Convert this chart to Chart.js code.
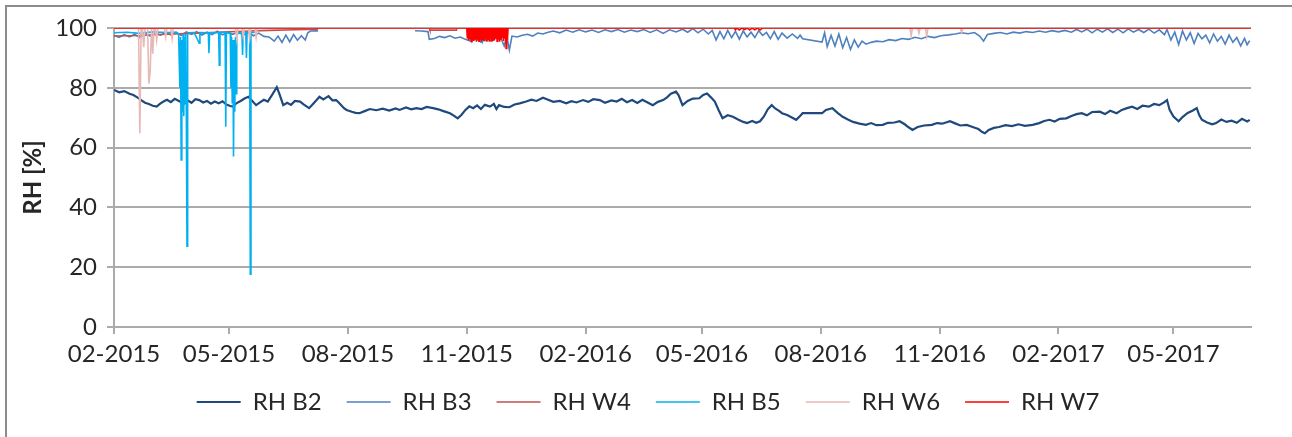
<!DOCTYPE html>
<html>
<head>
<meta charset="utf-8">
<script src="https://cdn.jsdelivr.net/npm/chart.js@4.4.1/dist/chart.umd.min.js"></script>
<style>
  body { margin: 0; background: #fff; }
  #frame { position: absolute; left: 5px; top: 5px; width: 1400px; height: 500px; border: 2px solid #8c8c8c; }
  #rhChart { position: absolute; left: 0; top: 0; }
</style>
</head>
<body>
<div id="frame"></div>
<canvas id="rhChart" width="1292" height="437"></canvas>
<script>
// x values are days since 01-02-2015
var tickDays = [0, 89, 181, 273, 365, 455, 547, 639, 731, 820];
var tickLabels = ['02-2015', '05-2015', '08-2015', '11-2015', '02-2016', '05-2016', '08-2016', '11-2016', '02-2017', '05-2017'];
var seriesNames = ['RH B2', 'RH B3', 'RH W4', 'RH B5', 'RH W6', 'RH W7'];

var b2Day = [0,4,8,12,15,18,21,24,27,30,33,36,39,41,44,47,51,54,57,60,63,66,69,72,75,78,81,84,87,90,92,95,98,101,104,107,110,113,116,119,122,126,128,131,134,137,140,144,147,151,154,157,159,162,166,169,172,175,178,180,184,187,190,194,198,203,208,213,218,221,226,230,234,238,242,247,251,255,260,263,266,269,272,275,278,281,284,287,291,294,296,298,302,306,310,314,319,323,327,332,336,340,345,350,354,358,363,367,371,376,380,385,389,393,397,401,405,409,413,417,421,425,428,431,435,437,440,444,448,453,456,459,462,465,468,471,475,479,483,487,490,494,497,500,503,506,509,512,515,517,521,525,528,531,533,548,551,556,560,564,568,572,577,582,586,590,595,599,604,608,612,615,618,622,627,633,637,641,647,651,655,660,664,669,672,674,677,681,685,690,695,700,705,711,716,720,724,728,732,737,741,745,749,753,757,763,767,771,776,780,784,788,792,796,801,805,809,813,815,817,820,824,827,831,835,838,840,842,846,850,853,857,861,865,869,873,877,879];
var b2Val = [79.3,78.5,78.9,78.0,77.6,76.8,75.9,75.0,74.6,74.0,73.7,74.8,75.6,76.0,75.2,76.3,75.4,74.6,75.8,75.0,76.2,75.9,75.1,75.6,74.7,75.4,74.8,75.5,74.4,73.9,73.7,74.9,75.6,76.4,77.0,75.6,74.2,75.1,76.0,75.4,77.4,80.2,78.0,74.2,75.0,74.3,75.6,75.4,74.4,73.2,74.6,76.0,77.0,76.1,77.2,75.8,75.9,74.6,73.2,72.6,72.0,71.6,71.5,72.2,72.9,72.5,73.0,72.4,73.1,72.6,73.4,72.8,73.2,72.9,73.6,73.2,72.8,72.2,71.5,70.7,69.8,71.0,72.6,73.8,73.2,74.1,72.9,74.3,73.7,74.6,72.9,74.2,73.6,73.5,74.4,74.8,75.4,76.0,75.6,76.7,76.0,75.3,75.6,74.8,75.5,75.1,75.9,75.3,76.2,75.9,75.0,75.8,75.4,76.3,75.2,75.9,74.9,76.0,75.1,74.2,75.3,75.9,76.8,78.0,78.7,77.5,74.2,75.6,76.4,76.5,77.6,78.1,76.8,75.4,72.5,69.8,70.8,70.3,69.4,68.6,68.2,68.9,68.3,68.8,70.4,72.8,74.2,73.0,72.2,71.5,70.9,70.0,69.3,70.6,71.5,71.5,72.6,73.2,71.6,70.3,69.4,68.6,68.0,67.6,68.2,67.5,67.6,68.3,68.4,68.8,67.8,66.8,65.9,66.9,67.4,67.6,68.2,68.0,68.8,68.1,67.4,67.6,67.0,66.2,65.2,64.8,65.9,66.6,66.9,67.5,67.2,67.8,67.3,67.6,68.2,68.9,69.3,68.7,69.6,69.8,70.6,71.2,71.5,70.8,71.9,72.0,71.2,72.3,71.5,72.6,73.2,73.7,72.9,74.0,73.7,74.6,74.2,75.2,75.9,72.6,70.4,68.8,70.2,71.6,72.4,73.2,70.8,69.3,68.4,67.8,68.2,69.4,68.6,69.0,68.3,69.6,68.7,69.3];

var b3Day = [0,4,8,12,16,20,24,28,32,36,40,44,48,52,56,60,64,68,72,76,80,84,88,92,96,100,104,108,112,116,120,124,127,130,133,136,139,142,145,148,150,152,156,158,160,233,238,243,244,248,252,256,260,264,268,272,276,280,284,288,292,296,300,302,304,306,308,312,316,320,324,328,332,336,340,345,350,355,360,365,370,375,380,385,390,395,400,405,410,415,420,425,430,435,440,444,448,452,456,460,463,466,469,472,475,478,481,484,487,490,493,496,499,502,505,508,511,514,517,521,525,529,531,533,548,550,552,555,558,561,564,567,570,573,576,579,582,586,590,595,600,605,610,615,620,625,630,635,640,646,651,656,661,666,670,673,676,681,686,691,696,701,706,711,716,721,726,731,736,741,745,749,753,757,761,765,769,773,777,781,785,789,793,797,801,805,809,813,815,818,821,824,827,830,833,836,839,842,845,848,851,854,857,860,863,866,869,872,875,877,879];
var b3Val = [97.5,96.9,97.8,97.0,97.9,96.8,98.2,97.3,98.4,97.6,98.5,97.7,98.6,97.5,98.7,97.9,98.8,97.6,98.6,97.8,98.9,97.7,98.6,97.9,98.7,97.6,98.5,97.4,98.3,97.2,97.0,95.6,97.3,95.2,97.6,95.4,97.8,95.9,97.4,96.0,98.4,99.0,99.1,99.0,null,99.1,99.0,98.8,96.2,96.5,97.2,96.8,97.4,96.6,97.0,96.2,95.6,96.4,95.3,96.6,95.8,96.9,96.1,94.0,97.4,92.6,97.3,97.0,97.6,97.9,97.3,98.3,98.0,98.6,99.0,98.4,99.3,98.6,99.4,98.7,99.3,98.5,99.4,98.8,99.5,98.6,99.3,98.8,99.5,98.5,99.4,98.2,99.4,98.7,99.6,98.6,99.8,98.4,99.6,98.0,99.2,96.0,98.8,96.4,99.2,96.8,98.9,96.3,99.0,97.0,98.6,96.8,99.1,97.5,98.5,96.4,98.8,96.2,98.3,96.6,98.0,96.5,97.6,96.4,95.3,98.4,93.8,97.5,94.0,98.0,93.4,96.8,92.8,96.0,93.6,95.6,94.6,95.2,95.6,95.4,96.1,95.8,96.5,96.2,96.9,96.4,97.2,96.8,97.4,97.7,98.0,98.4,98.1,98.5,97.3,95.6,97.8,98.2,98.5,98.0,98.6,98.3,98.8,98.5,99.0,98.6,99.1,98.7,99.2,98.6,99.5,98.7,99.6,98.4,99.6,98.6,99.7,98.5,99.6,98.4,99.7,98.6,99.5,98.5,99.6,98.3,99.4,97.8,99.5,96.0,98.6,94.5,99.0,96.0,98.4,94.8,98.2,96.4,97.6,95.0,98.0,95.6,97.2,94.6,97.6,95.2,96.8,94.0,96.5,94.4,95.8];

var w4Day = [0,20,40,60,80,100,120,140,158,160,244,244.5,265,265.5,880];
var w4Val = [97.3,97.5,97.9,98.2,98.6,98.9,99.2,99.4,99.6,null,100,99.3,99.3,100,100];

var b5Day = [0,10,20,30,40,48,50,51,51.5,52,52.5,53,53.5,54,54.5,55,55.5,56,56.5,57,58,62,66,66.5,73,73.5,74,81,81.5,82,86,86.5,87,90,90.5,91,91.5,92,92.5,93,93.5,94,94.5,95,99,99.5,100,102,102.5,103,105,105.5,106,109,110,275,277,279,281,283,285,287,289,291,293,295,297,299];
var b5Val = [98.4,98.6,98.2,98.7,98.5,98.6,98.0,80.0,97.0,55.9,96.0,72.0,98.0,70.5,97.0,75.0,98.0,70.0,27.0,98.0,98.4,98.5,94.9,98.5,98.4,91.6,98.4,98.5,87.6,98.5,98.6,67.0,98.4,98.2,80.0,97.0,75.0,96.0,57.0,96.0,72.0,97.0,78.0,98.0,98.5,91.0,98.4,98.5,90.0,98.6,98.5,17.7,98.4,98.6,null,98.0,95.5,97.5,96.0,97.0,95.2,97.5,96.0,98.0,95.8,97.2,96.5,98.0];

var w6Day = [0,19,20,21,22,23,24,26,27,28,29,30,31,32,33,34,39,40,41,44,45,46,94,95,96,99,100,101,104,105,106,109,110,111,160,616,617,618,622,623,624,628,629,630,655,656,657,880];
var w6Val = [100,100,64.8,100,100,93.6,100,100,81.4,85.4,100,91.4,100,100,96.0,100,100,97.0,100,100,96.5,100,100,96.3,100,100,97.0,100,100,96.5,100,100,96.8,100,100,100,97.5,100,100,98.2,100,100,97.2,100,100,98.5,100,100];

var w7Day = [0,273,273.5,274,274.5,275,275.5,276,276.5,277,277.5,278,278.5,279,279.5,280,280.5,281,281.5,282,282.5,283,283.5,284,284.5,285,285.5,286,286.5,287,287.5,288,288.5,289,289.5,290,290.5,291,291.5,292,292.5,293,293.5,294,294.5,295,295.5,296,296.5,297,297.5,298,298.5,299,299.5,300,300.5,301,301.5,302,302.5,303,303.5,304,304.5,305,306,480,481,482,484,486,488,490,492,494,496,498,500,502,503,880];
var w7Val = [100,100,96.5,100,95.8,100,96.2,100,95.5,100,96.0,100,95.7,100,96.4,100,95.4,100,96.1,100,95.6,100,96.3,100,95.5,100,96.0,100,95.8,100,96.6,100,95.4,100,96.2,100,95.7,100,96.4,100,95.5,100,96.0,100,95.9,100,96.5,100,95.6,100,96.2,100,95.4,100,96.0,100,96.8,100,95.7,100,96.4,100,93.2,100,96.1,100,100,100,99.4,100,99.3,100,99.5,100,99.3,100,99.4,100,99.3,100,100,100];

function toPoints(days, vals) {
	return days.map(function (d, i) { return { x: d, y: vals[i] }; });
}

var fontFam = 'Lato, "Open Sans", sans-serif';
var textCol = '#262626';
var gridCol = '#ababab';

var chart = new Chart(document.getElementById('rhChart'), {
	type: 'line',
	data: {
		datasets: [
			{ label: seriesNames[0], data: toPoints(b2Day, b2Val), borderColor: '#1f497d', borderWidth: 2.2, order: 6 },
			{ label: seriesNames[1], data: toPoints(b3Day, b3Val), borderColor: '#4f81bd', borderWidth: 1.6, order: 5 },
			{ label: seriesNames[2], data: toPoints(w4Day, w4Val), borderColor: '#c0504d', borderWidth: 1.6, order: 4 },
			{ label: seriesNames[3], data: toPoints(b5Day, b5Val), borderColor: '#00b0f0', borderWidth: 1.6, order: 3 },
			{ label: seriesNames[4], data: toPoints(w6Day, w6Val), borderColor: '#e6b9b8', borderWidth: 1.6, order: 2 },
			{ label: seriesNames[5], data: toPoints(w7Day, w7Val), borderColor: '#ff0000', borderWidth: 1.6, order: 1 }
		]
	},
	options: {
		responsive: false,
		animation: false,
		devicePixelRatio: 1,
		spanGaps: false,
		elements: { point: { radius: 0 }, line: { tension: 0, fill: false } },
		// left padding pushes the legend centre to the right; y axis width makes up for it
		layout: { padding: { left: 45, right: 41, top: 28, bottom: 13 } },
		plugins: {
			tooltip: { enabled: false },
			legend: {
				position: 'bottom',
				labels: {
					usePointStyle: true,
					pointStyle: 'line',
					pointStyleWidth: 44,
					padding: 25,
					color: textCol,
					font: { family: fontFam, size: 24 },
					sort: function (a, b) { return a.datasetIndex - b.datasetIndex; }
				}
			}
		},
		scales: {
			x: {
				type: 'linear',
				min: 0,
				max: 880,
				afterBuildTicks: function (scale) {
					scale.ticks = tickDays.map(function (d) { return { value: d }; });
				},
				afterFit: function (scale) { scale.height = 38; },
				grid: { drawOnChartArea: false, color: gridCol, lineWidth: 2, tickLength: 7 },
				border: { color: gridCol, width: 2 },
				ticks: {
					autoSkip: false,
					maxRotation: 0,
					padding: 6,
					color: textCol,
					font: { family: fontFam, size: 24 },
					callback: function (v) { return tickLabels[tickDays.indexOf(v)]; }
				}
			},
			y: {
				min: 0,
				max: 100,
				afterFit: function (scale) { scale.width = 69; },
				grid: { color: gridCol, lineWidth: 2, tickLength: 7 },
				border: { color: gridCol, width: 2 },
				ticks: {
					stepSize: 20,
					padding: 10,
					color: textCol,
					font: { family: fontFam, size: 24 }
				},
				title: {
					display: true,
					text: 'RH [%]',
					color: textCol,
					padding: { top: -26, bottom: 0 },
					font: { family: fontFam, size: 24, weight: 'bold' }
				}
			}
		}
	}
});
</script>
</body>
</html>
